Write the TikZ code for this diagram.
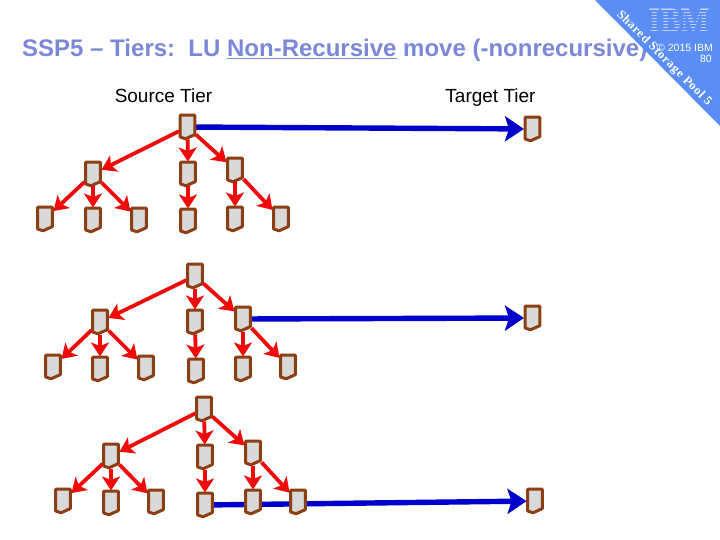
\documentclass[tikz,border=0pt]{standalone}
\usepackage{fontspec}
\setmainfont{Liberation Sans}
\newfontfamily\serifb{Liberation Serif}
\usetikzlibrary{arrows.meta,backgrounds}
\definecolor{titlec}{HTML}{7B88D8}
\definecolor{cornerc}{HTML}{5B8EF5}
\definecolor{logoc}{HTML}{C3CFF7}
\definecolor{docc}{HTML}{8B3F12}
\definecolor{docfill}{HTML}{D9D9D9}
\definecolor{bluec}{HTML}{0000CC}
\definecolor{redc}{HTML}{F00A0A}
\tikzset{
  docbox/.style={minimum width=17pt,minimum height=25pt,inner sep=0pt,outer sep=0pt},
  docshape/.style={draw=docc,fill=docfill,line width=3pt,line join=round},
  redlink/.style={draw=redc,line width=3.8pt,-{Stealth[length=14pt,width=18pt,inset=3.5pt]}},
  bluelink/.style={draw=bluec,line width=5.4pt,-{Stealth[length=19pt,width=25pt,inset=4pt]}},
  tierlabel/.style={font=\fontsize{19}{22}\selectfont,text=black,inner sep=0pt},
}
\newcommand{\docnode}[3]{%
  \node[docbox] (#1) at (#2,#3) {};
  \path[docshape,shift={(#2,#3)}] (-7.4,-11.8) -- (7.4,-11.8) -- (7.4,7.6)
    -- (-2,11.8) -- (-7.4,10) -- cycle;
}
\begin{document}
\begin{tikzpicture}[x=1pt,y=-1pt]
\useasboundingbox (0,0) rectangle (720,540);
% title
\node[anchor=base west,inner sep=0pt,text=titlec,font=\fontsize{24}{28}\selectfont\bfseries] (title) at (22,57)
  {SSP5 – Tiers:\ \ LU \underline{Non-Recursive} move (-nonrecursive)};
% corner
\coordinate (ca) at (595,0);
\coordinate (cb) at (720,0);
\coordinate (cc) at (720,126);
\fill[cornerc] (ca) -- (cb) -- (cc) -- cycle;
% logo
\node[inner sep=0pt,text=logoc,font=\serifb\bfseries\fontsize{36}{36}\selectfont,xscale=0.85,anchor=base] (logo) at (679,33) {IBM};
\foreach \yy in {10.5,13.5,...,34.5}{\fill[cornerc] (645,\yy) rectangle (714,\yy+1.1);}
\node[anchor=base east,inner sep=0pt,text=white,font=\fontsize{10.5}{12}\selectfont] (copy) at (713,51.5) {© 2015 IBM};
\node[anchor=base east,inner sep=0pt,text=white,font=\fontsize{10.5}{12}\selectfont] (page) at (712,63) {80};
\node[rotate=-45,inner sep=0pt,text=white,font=\serifb\bfseries\fontsize{12.5}{14}\selectfont\addfontfeature{LetterSpace=5}] (corner) at (664,58.5) {Shared Storage Pool 5};
% labels
\node[tierlabel,anchor=base] (src) at (163.5,103) {Source Tier};
\node[tierlabel,anchor=base] (tgt) at (490.5,103) {Target Tier};
% tree 1
\docnode{ar}{187.5}{127}
\docnode{aa}{93}{174}
\docnode{ab}{188}{174}
\docnode{ac}{235}{170}
\docnode{al}{45}{219}
\docnode{am}{93}{220}
\docnode{an}{139}{220}
\docnode{ao}{188}{221}
\docnode{ap}{235}{219}
\docnode{aq}{281}{219}
\docnode{at}{532.5}{129}
% tree 2
\docnode{br}{195}{276}
\docnode{ba}{100}{322}
\docnode{bb}{195}{322}
\docnode{bc}{243}{319}
\docnode{bl}{53}{367}
\docnode{bm}{100}{369}
\docnode{bn}{146}{368}
\docnode{bo}{196}{371}
\docnode{bp}{243}{369}
\docnode{bq}{288}{367}
\docnode{bt}{532.5}{318}
% tree 3
\docnode{cr}{204}{409}
\docnode{ca2}{111}{456}
\docnode{cb2}{205}{457}
\docnode{cc2}{253}{453}
\docnode{cl}{63}{501}
\docnode{cm}{111}{503}
\docnode{cn}{156}{502}
\docnode{co}{205}{505}
\docnode{cp}{253}{502}
\docnode{cq}{298}{502}
\docnode{ct}{535}{501}
% blue links
\begin{scope}[on background layer]
\draw[bluelink] (ar) -- (at);
\draw[bluelink] (bc) -- (bt);
\draw[bluelink] (co) -- (ct);
\end{scope}
% red links
\foreach \p/\q in {ar/aa,ar/ab,ar/ac,aa/al,aa/am,aa/an,ab/ao,ac/ap,ac/aq,
                   br/ba,br/bb,br/bc,ba/bl,ba/bm,ba/bn,bb/bo,bc/bp,bc/bq,
                   cr/ca2,cr/cb2,cr/cc2,ca2/cl,ca2/cm,ca2/cn,cb2/co,cc2/cp,cc2/cq}
  {\draw[redlink] (\p) -- (\q);}
\end{tikzpicture}
\end{document}
